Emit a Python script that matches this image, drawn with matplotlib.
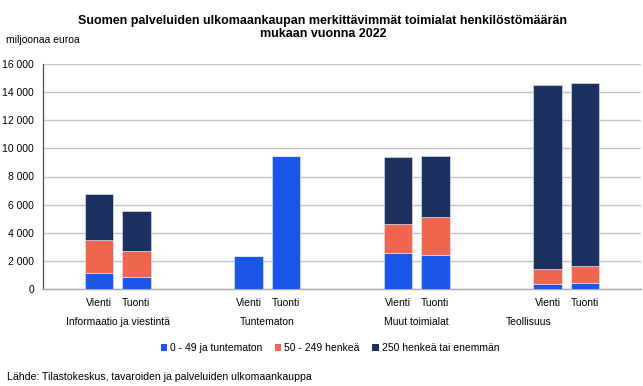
import matplotlib
matplotlib.use('Agg')

from matplotlib import pyplot as plt
from matplotlib.patches import Patch
import numpy as np

plt.rcParams['font.family'] = ['Liberation Sans', 'DejaVu Sans']

groups = ["Informaatio ja viestintä", "Tuntematon", "Muut toimialat", "Teollisuus"]
flows = ["Vienti", "Tuonti"]
series_names = ["0 - 49 ja tuntematon", "50 - 249 henkeä", "250 henkeä tai enemmän"]

# values per bar, order: Info V, Info T, Tunt V, Tunt T, Muut V, Muut T, Teoll V, Teoll T
small = [1110, 830, 2370, 9460, 2560, 2420, 355, 405]
medium = [2375, 1850, 0, 0, 2040, 2680, 1090, 1255]
large = [3270, 2890, 0, 0, 4810, 4380, 13085, 13010]

colors = ["#1c56e8", "#f1664f", "#1b305e"]


def main():
    fig = plt.figure(figsize=(6.43, 3.86), dpi=100)
    ax = fig.add_axes([43 / 643, 1 - 289 / 386, 598 / 643, 225 / 386])

    pos = []
    for g in range(len(groups)):
        pos += [4 * g, 4 * g + 1]
    pos = np.array(pos)

    bottom = np.zeros(len(pos))
    for vals, col in zip([small, medium, large], colors):
        vals = np.array(vals)
        ax.bar(pos, vals, 0.77, bottom=bottom, color=col, edgecolor='#e8ecf8',
               linewidth=0.4, zorder=3)
        bottom += vals

    ax.set_xlim(-1.5, 14.5)
    ax.set_ylim(0, 16000)
    ax.set_yticks(range(0, 16001, 2000))
    ax.set_yticklabels([f"{v:,}".replace(",", " ") for v in range(0, 16001, 2000)], fontsize=7.5)
    ax.yaxis.grid(True, color='#c6c6c6', linewidth=1.0, zorder=0)
    ax.tick_params(axis='y', length=0, pad=6.5)
    ax.tick_params(axis='x', length=0, pad=6.5)
    ax.set_xticks(pos)
    ax.set_xticklabels(flows * len(groups), fontsize=7.5)

    for s in ['top', 'right']:
        ax.spines[s].set_visible(False)
    ax.spines['left'].set_color('#4a4a4a')
    ax.spines['left'].set_linewidth(0.9)
    ax.spines['bottom'].set_color('#a8a8a8')
    ax.spines['bottom'].set_linewidth(1.0)

    label_x = [0.5, 4.5, 8.5, 11.5]
    for name, x in zip(groups, label_x):
        ax.text(x, -0.145, name, transform=ax.get_xaxis_transform(), ha='center', va='center',
                fontsize=7.5)

    fig.text(323 / 643, 1 - 27.5 / 386, "Suomen palveluiden ulkomaankaupan merkittävimmät toimialat henkilöstömäärän\nmukaan vuonna 2022",
             ha='center', va='center', fontsize=9, fontweight='bold', linespacing=1.2)
    fig.text(6 / 643, 1 - 40 / 386, "miljoonaa euroa", ha='left', va='center', fontsize=7.5)

    handles = [Patch(facecolor=c, edgecolor='none') for c in colors]
    fig.legend(handles, series_names, loc='center', bbox_to_anchor=(330 / 643, 1 - 348 / 386),
               ncol=3, frameon=False, fontsize=7.5, handlelength=0.6, handleheight=0.6,
               handletextpad=0.3, columnspacing=1.2)

    fig.text(7 / 643, 1 - 377 / 386, "Lähde: Tilastokeskus, tavaroiden ja palveluiden ulkomaankauppa",
             ha='left', va='center', fontsize=7.6)

    fig.savefig("out.png", dpi=100)


if __name__ == "__main__":
    main()
